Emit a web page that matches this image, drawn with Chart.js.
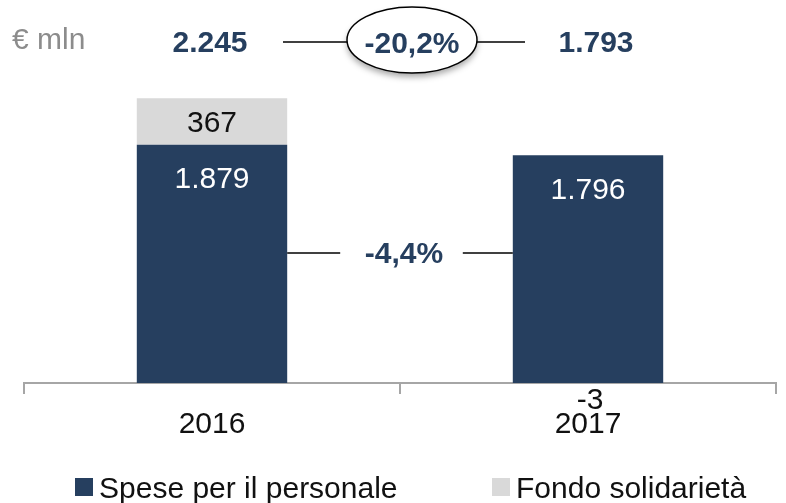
<!DOCTYPE html>
<html>
<head>
<meta charset="utf-8">
<script src="https://cdn.jsdelivr.net/npm/chart.js@4/dist/chart.umd.min.js"></script>
<style>
  html, body { margin: 0; padding: 0; background: #ffffff; }
  #wrap { width: 786px; height: 503px; }
</style>
</head>
<body>
<div id="wrap"><canvas id="c" width="786" height="503"></canvas></div>
<script>
// ---- data ----
const categories = ['2016', '2017'];
const spesePersonale = [1879, 1796];
const fondoSolidarieta = [367, -3];
const seriesNames = ['Spese per il personale', 'Fondo solidarietà'];
const totals = [2245, 1793];
const totalChangeLabel = '-20,2%';
const speseChangeLabel = '-4,4%';
const unitLabel = '€ mln';

const NAVY = '#263F5F';
const GREY = '#D9D9D9';
const AXIS = '#A6A6A6';
const FONT = '"Liberation Sans", Arial, sans-serif';

function fmt(v) {
  const s = Math.abs(Math.round(v)).toString().replace(/\B(?=(\d{3})+(?!\d))/g, '.');
  return (v < 0 ? '-' : '') + s;
}

// draw text vertically centred on the digit height
function text(ctx, str, x, cy, size, weight, color, align) {
  ctx.save();
  ctx.font = (weight || 'normal') + ' ' + size + 'px ' + FONT;
  ctx.fillStyle = color;
  ctx.textAlign = align || 'center';
  ctx.textBaseline = 'alphabetic';
  ctx.fillText(str, x, cy + size * 0.358);
  ctx.restore();
}
function line(ctx, x1, y1, x2, y2) {
  ctx.save();
  ctx.strokeStyle = '#000';
  ctx.lineWidth = 1.5;
  ctx.beginPath();
  ctx.moveTo(x1, y1);
  ctx.lineTo(x2, y2);
  ctx.stroke();
  ctx.restore();
}

const annotations = {
  id: 'annotations',
  afterDatasetsDraw(chart) {
    const ctx = chart.ctx;
    const m0 = chart.getDatasetMeta(0).data;
    const m1 = chart.getDatasetMeta(1).data;

    // value labels
    m0.forEach((b, i) => {
      text(ctx, fmt(spesePersonale[i]), b.x, b.y + 33, 30, 'normal', '#ffffff');
    });
    m1.forEach((b, i) => {
      const v = fondoSolidarieta[i];
      if (v >= 0) {
        text(ctx, fmt(v), b.x, (b.y + b.base) / 2, 30, 'normal', '#111111');
      } else {
        text(ctx, fmt(v), b.x + 2, Math.max(b.y, b.base) + 15, 30, 'normal', '#111111');
      }
    });

    // -4,4% comparison between the personnel bars
    const midY = 253;
    const left = m0[0].x + m0[0].width / 2;
    const right = m0[1].x - m0[1].width / 2;
    const mid = (left + right) / 2;
    line(ctx, left, midY, left + 53, midY);
    line(ctx, right - 50, midY, right, midY);
    text(ctx, speseChangeLabel, mid + 4, midY - 1, 30, 'bold', NAVY);

    // top totals row
    const topY = 41;
    text(ctx, unitLabel, 12, topY - 3, 30, 'normal', '#8C8C8C', 'left');
    text(ctx, fmt(totals[0]), m0[0].x - 2, topY, 30, 'bold', NAVY);
    text(ctx, fmt(totals[1]), m0[1].x + 8, topY, 30, 'bold', NAVY);

    const ex = mid + 12, ey = 40, rx = 65, ry = 33;
    line(ctx, 283, topY + 1, ex - rx, topY + 1);
    line(ctx, ex + rx, topY + 1, 525, topY + 1);
    ctx.save();
    ctx.shadowColor = 'rgba(0,0,0,0.35)';
    ctx.shadowBlur = 6;
    ctx.shadowOffsetY = 4;
    ctx.beginPath();
    ctx.ellipse(ex, ey, rx, ry, 0, 0, Math.PI * 2);
    ctx.fillStyle = '#ffffff';
    ctx.fill();
    ctx.restore();
    ctx.save();
    ctx.beginPath();
    ctx.ellipse(ex, ey, rx, ry, 0, 0, Math.PI * 2);
    ctx.strokeStyle = '#000';
    ctx.lineWidth = 1.5;
    ctx.stroke();
    ctx.restore();
    text(ctx, totalChangeLabel, ex, ey + 2, 30, 'bold', NAVY);

    // legend
    const colors = chart.data.datasets.map(d => d.backgroundColor);
    const items = [{ x: 75, i: 0 }, { x: 492, i: 1 }];
    const ly = 487;
    items.forEach(it => {
      ctx.save();
      ctx.fillStyle = colors[it.i];
      ctx.fillRect(it.x, ly - 9, 18, 18);
      ctx.restore();
      text(ctx, chart.data.datasets[it.i].label, it.x + 24, ly, 30, 'normal', '#111111', 'left');
    });
  }
};

new Chart(document.getElementById('c'), {
  type: 'bar',
  data: {
    labels: categories,
    datasets: [
      { label: seriesNames[0], data: spesePersonale, backgroundColor: NAVY, borderWidth: 0 },
      { label: seriesNames[1], data: fondoSolidarieta, backgroundColor: GREY, borderWidth: 0 }
    ]
  },
  options: {
    responsive: false,
    animation: false,
    devicePixelRatio: 1,
    layout: { padding: { left: 24, right: 10, top: 66, bottom: 47 } },
    plugins: { legend: { display: false }, tooltip: { enabled: false } },
    datasets: { bar: { categoryPercentage: 1, barPercentage: 0.4 } },
    scales: {
      x: {
        stacked: true,
        grid: { offset: true, drawOnChartArea: false, tickLength: 11, color: AXIS, lineWidth: 2 },
        border: { color: AXIS, width: 2 },
        ticks: { color: '#111111', padding: 13, font: { family: FONT, size: 30 } }
      },
      y: { stacked: true, display: false, min: 0, max: 2500 }
    }
  },
  plugins: [annotations]
});
</script>
</body>
</html>
